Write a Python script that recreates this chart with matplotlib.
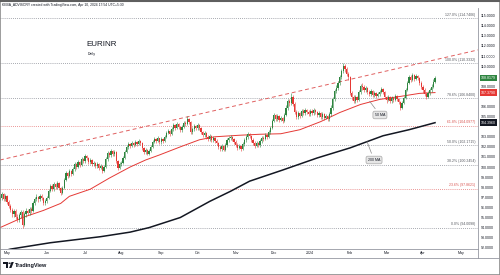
import matplotlib
matplotlib.use('Agg')
import matplotlib.pyplot as plt
import matplotlib.transforms as mtransforms
from matplotlib.lines import Line2D
from matplotlib.patches import Rectangle, Circle, Polygon
import pandas as pd

plt.rcParams['font.family'] = ['Liberation Sans', 'DejaVu Sans']

# daily EURINR candles, 25 Apr 2023 .. 10 Apr 2024 (weekdays)
first_open = 96.6
closes = [
    # Apr 2023
    96.9, 97.3, 96.8, 97.1,
    # May
    96.5, 96.1, 95.7, 95.3, 95.6, 95.1, 94.8, 95.2, 95.5, 94.3, 95.3, 95.6,
    95.4, 95.8, 95.6, 96.4, 96.8, 97.0, 96.8, 97.1, 96.9, 96.4, 96.6,
    # Jun
    96.9, 97.6, 98.1, 97.8, 98.3, 98.0, 98.4, 97.9, 97.4, 97.9, 98.7,
    99.4, 99.1, 99.6, 99.3, 99.8, 100.3, 100.0, 100.5, 100.2, 100.8, 100.6,
    # Jul
    101.1, 100.9, 100.5, 100.7, 100.3, 100.4, 100.1, 100.3, 99.9, 100.1, 99.6,
    100.0, 100.8, 101.4, 101.2, 101.6, 101.3, 101.5, 100.6, 99.9, 100.3,
    # Aug
    100.4, 100.9, 101.5, 102.0, 102.3, 102.1, 102.4, 102.2, 102.5, 102.3, 102.6, 102.4,
    101.9, 101.5, 101.7, 101.3, 101.6, 102.0, 102.5, 102.8, 102.6, 102.9, 102.5,
    # Sep
    102.8, 102.6, 103.0, 103.4, 103.6, 103.3, 103.8, 104.2, 103.9, 104.3, 104.0,
    103.7, 104.0, 104.4, 104.3, 104.8, 104.5, 103.5, 103.8, 104.1, 103.9,
    # Oct
    104.2, 103.9, 103.5, 103.2, 103.4, 103.0, 102.8, 103.1, 102.7, 102.9, 102.6,
    102.4, 102.0, 101.8, 102.1, 101.7, 102.2, 102.7, 102.9, 103.0, 102.8, 102.5,
    # Nov
    102.2, 101.9, 102.1, 101.8, 102.3, 102.7, 103.0, 103.3, 103.1, 102.7, 102.4,
    102.1, 102.4, 102.2, 102.6, 102.9, 102.8, 103.2, 103.0, 103.5, 103.9, 104.6,
    # Dec
    105.2, 104.8, 105.1, 104.7, 104.9, 104.6, 105.2, 105.9, 106.5, 106.3, 106.9,
    106.2, 105.5, 105.0, 105.4, 105.1, 105.6, 105.4, 105.7, 105.5, 105.3,
    # Jan 2024
    105.6, 105.4, 105.7, 105.5, 105.2, 105.4, 105.0, 105.3, 104.9, 105.1, 104.8, 105.3,
    105.9, 106.7, 107.5, 107.8, 108.3, 108.9, 109.5, 110.0, 109.7, 109.2, 108.9,
    # Feb
    107.3, 106.9, 106.5, 106.9, 106.6, 107.4, 108.0, 107.9, 107.6, 107.8, 107.4,
    107.2, 107.5, 107.1, 107.3, 107.0, 107.2, 107.4, 107.7, 107.4, 106.9,
    # Mar
    106.6, 106.9, 106.5, 106.8, 106.6, 107.0, 106.7, 106.4, 105.9, 106.3, 106.8,
    107.6, 108.3, 108.9, 108.6, 109.1, 108.7, 109.0, 108.8, 108.3, 107.9,
    # Apr
    107.6, 107.2, 106.9, 107.3, 107.6, 107.9, 108.4, 108.8179,
]
highs = [
    97.1, 97.5, 97.4, 97.3,
    97.2, 96.7, 96.3, 95.9, 95.8, 95.8, 95.3, 95.4, 95.7, 95.7, 95.5, 95.9,
    95.8, 96.0, 96.0, 96.6, 97.0, 97.3, 97.1, 97.3, 97.3, 97.0, 96.8,
    97.1, 97.8, 98.3, 98.3, 98.5, 98.4, 98.6, 98.5, 98.0, 98.1, 98.9,
    99.6, 99.5, 99.8, 99.7, 100.0, 100.5, 100.4, 100.7, 100.6, 101.0, 100.9,
    101.3, 101.2, 101.0, 100.9, 100.8, 100.6, 100.5, 100.5, 100.4, 100.3, 100.2,
    100.2, 101.0, 101.6, 101.5, 101.8, 101.7, 101.7, 101.6, 100.7, 100.5,
    100.6, 101.1, 101.7, 102.2, 102.5, 102.4, 102.6, 102.5, 102.7, 102.6, 102.8, 102.7,
    102.5, 102.0, 101.9, 101.8, 101.8, 102.2, 102.7, 103.0, 102.9, 103.1, 102.9,
    103.0, 102.9, 103.2, 103.6, 103.8, 103.7, 104.0, 104.4, 104.3, 104.5, 104.4,
    104.1, 104.2, 104.6, 104.6, 105.05, 104.9, 104.6, 104.0, 104.3, 104.2,
    104.4, 104.3, 104.0, 103.6, 103.6, 103.5, 103.2, 103.3, 103.2, 103.1, 103.0,
    102.8, 102.5, 102.2, 102.3, 102.2, 102.4, 102.9, 103.1, 103.2, 103.1, 102.9,
    102.7, 102.4, 102.3, 102.2, 102.5, 102.9, 103.2, 103.5, 103.4, 103.2, 102.9,
    102.6, 102.6, 102.5, 102.8, 103.1, 103.1, 103.4, 103.3, 103.7, 104.1, 104.8,
    105.4, 105.3, 105.3, 105.2, 105.1, 105.0, 105.4, 106.1, 106.7, 106.7, 107.3,
    107.1, 106.4, 105.7, 105.6, 105.5, 105.8, 105.8, 105.9, 105.8, 105.7,
    105.8, 105.8, 105.9, 105.8, 105.6, 105.6, 105.5, 105.5, 105.4, 105.3, 105.2, 105.5,
    106.1, 106.9, 107.7, 108.1, 108.5, 109.1, 109.7, 110.3332, 110.2, 109.9, 109.4,
    109.0, 107.5, 107.1, 107.1, 107.0, 107.6, 108.2, 108.3, 108.1, 108.0, 107.9,
    107.6, 107.7, 107.6, 107.5, 107.4, 107.4, 107.6, 107.9, 107.8, 107.5,
    107.0, 107.1, 107.0, 107.0, 106.9, 107.2, 107.1, 106.8, 106.5, 106.5, 107.0,
    107.8, 108.5, 109.1, 109.1, 109.35, 109.2, 109.2, 109.1, 108.9, 108.5,
    108.1, 107.8, 107.4, 107.5, 107.8, 108.2, 108.7, 109.0,
]
lows = [
    96.4, 96.7, 96.6, 96.6,
    96.3, 95.9, 95.5, 95.1, 95.1, 94.9, 94.6, 94.6, 95.0, 94.0098, 94.2, 95.1,
    95.2, 95.2, 95.4, 95.5, 96.2, 96.6, 96.5, 96.6, 96.7, 96.2, 96.2,
    96.4, 96.8, 97.5, 97.6, 97.6, 97.8, 97.8, 97.7, 97.2, 97.3, 97.8,
    98.6, 98.9, 99.0, 99.1, 99.2, 99.6, 99.8, 99.9, 100.0, 100.1, 100.4,
    100.4, 100.7, 100.3, 100.3, 100.1, 100.1, 99.9, 99.9, 99.7, 99.8, 99.45,
    99.5, 99.9, 100.6, 101.0, 101.0, 101.1, 101.1, 100.4, 99.7, 99.8,
    100.1, 100.3, 100.8, 101.4, 101.8, 101.9, 102.0, 102.0, 102.1, 102.1, 102.2, 102.2,
    101.7, 101.3, 101.3, 101.15, 101.2, 101.5, 101.9, 102.4, 102.4, 102.5, 102.3,
    102.3, 102.4, 102.5, 102.9, 103.3, 103.1, 103.2, 103.6, 103.7, 103.8, 103.8,
    103.5, 103.5, 103.9, 104.1, 104.2, 104.3, 103.3, 103.3, 103.6, 103.7,
    103.7, 103.7, 103.3, 103.0, 103.0, 102.8, 102.6, 102.6, 102.5, 102.5, 102.4,
    102.2, 101.8, 101.6, 101.6, 101.55, 101.6, 102.0, 102.5, 102.7, 102.6, 102.3,
    102.0, 101.7, 101.8, 101.6, 101.7, 102.1, 102.5, 102.8, 102.9, 102.5, 102.2,
    101.9, 102.0, 102.0, 102.0, 102.4, 102.6, 102.7, 102.8, 102.9, 103.3, 103.8,
    104.5, 104.6, 104.6, 104.5, 104.6, 104.4, 104.5, 105.1, 105.7, 106.0, 106.1,
    106.0, 105.3, 104.8, 104.8, 104.9, 105.0, 105.2, 105.2, 105.3, 105.1,
    105.1, 105.2, 105.2, 105.3, 105.0, 105.0, 104.8, 104.8, 104.7, 104.8, 104.6, 104.6,
    105.1, 105.7, 106.5, 107.3, 107.6, 108.1, 108.7, 109.3, 109.4, 109.0, 108.6,
    107.1, 106.6, 106.3, 106.3, 106.4, 106.5, 107.2, 107.6, 107.4, 107.4, 107.2,
    107.0, 107.0, 106.9, 106.9, 106.8, 106.9, 107.0, 107.3, 107.2, 106.7,
    106.3, 106.5, 106.3, 106.3, 106.4, 106.5, 106.5, 106.2, 105.7, 105.8, 106.2,
    106.7, 107.5, 108.2, 108.4, 108.5, 108.5, 108.6, 108.6, 108.1, 107.7,
    107.3, 107.0, 106.7, 106.8, 107.1, 107.4, 107.8, 108.3,
]

# moving averages
ma50_dates = ['2023-04-25', '2023-05-12', '2023-05-30', '2023-06-13', '2023-06-20',
              '2023-07-06', '2023-07-21', '2023-08-08', '2023-08-21', '2023-08-31',
              '2023-09-18', '2023-10-03', '2023-10-16', '2023-11-03', '2023-11-21',
              '2023-12-07', '2023-12-22', '2024-01-09', '2024-01-24', '2024-02-09',
              '2024-02-26', '2024-03-13', '2024-03-28', '2024-04-10']
ma50_vals = [94.0, 95.0, 95.7, 96.4, 97.1, 97.8, 98.9, 100.0, 100.7, 101.2,
             102.0, 102.7, 103.0, 103.15, 103.25, 103.3, 103.7, 104.5, 105.4, 106.2,
             106.7, 107.0, 107.3, 107.379]
ma200_dates = ['2023-04-25', '2023-05-03', '2023-06-05', '2023-07-14', '2023-08-08',
               '2023-08-23', '2023-09-18', '2023-10-11', '2023-10-27', '2023-11-13',
               '2023-12-08', '2024-01-05', '2024-02-01', '2024-02-28', '2024-03-20',
               '2024-04-10']
ma200_vals = [91.6, 91.87, 92.5, 93.1, 93.55, 94.0, 95.0, 96.6, 97.6, 98.6,
              99.7, 100.9, 101.9, 103.1, 103.7, 104.396]

# fibonacci retracement levels
fib_pct = ['127.0%', '100.0%', '78.6%', '61.8%', '50.0%', '38.2%', '23.6%', '0.0%']
fib_vals = [114.7406, 110.3332, 106.8400, 104.0977, 102.1715, 100.2454, 97.8621, 94.0098]
fib_red = ['61.8%', '23.6%']

# rising trend line anchors
trend_dates = ['2023-04-25', '2024-01-26']
trend_vals = [100.70, 108.53]

month_starts = ['2023-05-01', '2023-06-01', '2023-07-01', '2023-08-01', '2023-09-01',
                '2023-10-01', '2023-11-01', '2023-12-01', '2024-01-01', '2024-02-01',
                '2024-03-01', '2024-04-01', '2024-05-01']
month_labels = ['May', 'Jun', 'Jul', 'Aug', 'Sep', 'Oct', 'Nov', 'Dec', '2024',
                'Feb', 'Mar', 'Apr', 'May']

GREEN = '#2e8540'
RED = '#e53935'
INK = '#131722'

bars = pd.bdate_range('2023-04-25', '2024-06-28')
dates = bars[:len(closes)]
x = list(range(len(closes)))
opens = [first_open] + closes[:-1]


def pos(ds):
    return bars.searchsorted(pd.to_datetime(ds))


fig = plt.figure(figsize=(5, 2.75), dpi=100)
ax = fig.add_axes([0, 26 / 275, 478 / 500, 241 / 275])
ax.set_xlim(-0.04, 275.8)
ax.set_ylim(91.88, 115.76)

for s in ['top', 'left']:
    ax.spines[s].set_visible(False)
for s in ['right', 'bottom']:
    ax.spines[s].set_color('#9598a1')
    ax.spines[s].set_linewidth(0.6)

# fib levels
for pct, v in zip(fib_pct, fib_vals):
    c = '#e57373' if pct in fib_red else '#8a8d96'
    tc = '#d9534f' if pct in fib_red else '#55585f'
    ax.axhline(v, color=c, ls=(0, (1, 1.5)), lw=0.6, zorder=1)
    ax.text(0.994, v + 0.12, f'{pct} ({v:.4f})', transform=ax.get_yaxis_transform(),
            ha='right', va='bottom', fontsize=2.5, color=tc)

# trend line
tx = pos(trend_dates)
ax.axline((tx[0], trend_vals[0]), (tx[1], trend_vals[1]), color='#e06060',
          ls=(0, (4, 3)), lw=0.7, zorder=2)

# moving averages
ax.plot(pos(ma200_dates), ma200_vals, color=INK, lw=1.1, zorder=3)
ax.plot(pos(ma50_dates), ma50_vals, color=RED, lw=0.7, zorder=3)

# candles
cols = [GREEN if c >= o else RED for o, c in zip(opens, closes)]
ax.vlines(x, lows, highs, colors=cols, lw=0.4, zorder=4)
bottoms = [min(o, c) for o, c in zip(opens, closes)]
heights = [max(abs(c - o), 0.06) for o, c in zip(opens, closes)]
ax.bar(x, heights, bottom=bottoms, width=0.7, color=cols, lw=0, zorder=5)

# callouts
box = dict(boxstyle='round,pad=0.5', fc='#e6e6e6', ec='#a6a6a6', lw=0.5)
ax.annotate('50 MA', xy=(212.3, 106.74), xytext=(219.2, 105.16), fontsize=2.6,
            ha='center', va='center', color=INK, bbox=box, zorder=6,
            arrowprops=dict(arrowstyle='-', color='#8a8a8a', lw=0.5))
ax.annotate('200 MA', xy=(211.2, 102.78), xytext=(215.8, 100.70), fontsize=2.6,
            ha='center', va='center', color=INK, bbox=box, zorder=6,
            arrowprops=dict(arrowstyle='-', color='#8a8a8a', lw=0.5))

# price scale
yt = list(range(92, 116))
hidden = [109, 107, 104]
ax.yaxis.tick_right()
ax.set_yticks(yt)
ax.set_yticklabels(['' if t in hidden else f'{t:.4f}' for t in yt])
ax.tick_params(axis='y', length=0, pad=2.2, labelsize=2.6, labelcolor=INK)

ax.set_xticks(pos(month_starts))
ax.set_xticklabels(month_labels)
ax.tick_params(axis='x', length=0, pad=1.5, labelsize=2.6, labelcolor=INK)

ytr = ax.get_yaxis_transform()
for v, fc in [(closes[-1], GREEN), (ma50_vals[-1], RED), (ma200_vals[-1], INK)]:
    ax.text(1.006, v, f'{v:.4f}', transform=ytr, ha='left', va='center', fontsize=2.6,
            color='white', clip_on=False, zorder=7,
            bbox=dict(boxstyle='square,pad=0.35', fc=fc, ec='none'))

# header, title, footer


def fx(px):
    return px / 500


def fy(py):
    return 1 - py / 275


fig.text(fx(2), fy(5), 'KEBA_ADVISORY created with TradingView.com, Apr 10, 2024 17:54 UTC+5:30',
         fontsize=2.4, color=INK, va='center')
fig.text(fx(86), fy(44), 'EURINR', fontsize=5.8, color=INK, va='center')
fig.text(fx(88), fy(54), 'Daily', fontsize=2.6, color=INK, va='center')

fig.add_artist(Line2D([0, fx(500)], [fy(258)] * 2, color='#9598a1', lw=0.6))
fig.add_artist(Line2D([fx(478)] * 2, [fy(249), fy(258)], color='#9598a1', lw=0.6))

fig.add_artist(Polygon([(fx(3), fy(262)), (fx(8), fy(262)), (fx(8), fy(268)),
                        (fx(6), fy(268)), (fx(6), fy(264)), (fx(3), fy(264))],
                       closed=True, fc=INK, ec='none', transform=fig.transFigure))
fig.add_artist(Circle((fx(9.6), fy(263.2)), 0.0025, fc=INK, ec='none',
                      transform=fig.transFigure))
fig.add_artist(Polygon([(fx(11.5), fy(262)), (fx(13.8), fy(262)), (fx(11.4), fy(268)),
                        (fx(9.1), fy(268))], closed=True, fc=INK, ec='none',
                       transform=fig.transFigure))
fig.text(fx(15), fy(265), 'TradingView', fontsize=4, fontweight='bold', color=INK,
         va='center')

fig.add_artist(Rectangle((0, 0), 1, 1, transform=fig.transFigure, fill=False,
                         ec='#8c8c8c', lw=1.2))
fig.add_artist(Line2D([0, 1], [fy(0.5)] * 2, color='#5f5f5f', lw=1.5))

fig.savefig('out.png', dpi=100)
